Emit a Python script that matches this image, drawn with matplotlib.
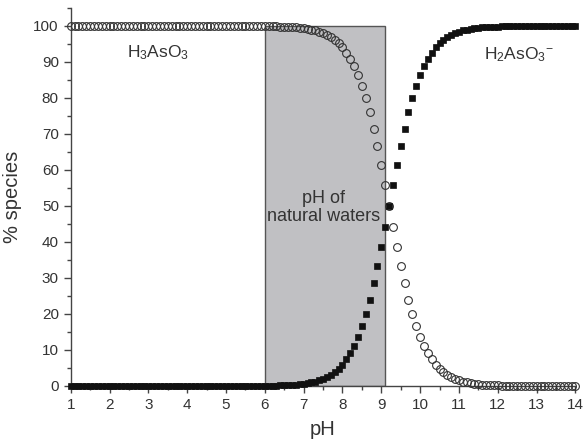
import numpy as np
import matplotlib
matplotlib.use("Agg")
import matplotlib.pyplot as plt
from matplotlib.patches import Rectangle
from matplotlib.ticker import MultipleLocator

plt.rcParams["font.family"] = ["Liberation Sans", "DejaVu Sans"]
plt.rcParams["mathtext.fontset"] = "custom"
plt.rcParams["mathtext.rm"] = "Liberation Sans"
plt.rcParams["mathtext.it"] = "Liberation Sans"

# pH grid, 1.0 .. 14.0 in steps of 0.1
ph = np.round(np.arange(10, 141) / 10, 1)

# % H3AsO3 (open circles)
h3aso3 = ([100.0] * 50 + [
    99.9, 99.9, 99.9, 99.9, 99.8, 99.8, 99.7, 99.7, 99.6, 99.5,
    99.4, 99.2, 99.0, 98.8, 98.4, 98.0, 97.6, 96.9, 96.2, 95.2,
    94.1, 92.6, 90.9, 88.8, 86.3, 83.4, 79.9, 76.0, 71.5, 66.6,
    61.3, 55.7, 50.0, 44.3, 38.7, 33.4, 28.5, 24.0, 20.1, 16.6,
    13.7, 11.2, 9.1, 7.4, 5.9, 4.8, 3.8, 3.1, 2.4, 2.0,
    1.6, 1.2, 1.0, 0.8, 0.6, 0.5, 0.4, 0.3, 0.3, 0.2,
    0.2, 0.1, 0.1, 0.1, 0.1,
] + [0.0] * 16)

# % H2AsO3- (filled squares)
h2aso3 = ([0.0] * 50 + [
    0.1, 0.1, 0.1, 0.1, 0.2, 0.2, 0.3, 0.3, 0.4, 0.5,
    0.6, 0.8, 1.0, 1.2, 1.6, 2.0, 2.4, 3.1, 3.8, 4.8,
    5.9, 7.4, 9.1, 11.2, 13.7, 16.6, 20.1, 24.0, 28.5, 33.4,
    38.7, 44.3, 50.0, 55.7, 61.3, 66.6, 71.5, 76.0, 79.9, 83.4,
    86.3, 88.8, 90.9, 92.6, 94.1, 95.2, 96.2, 96.9, 97.5, 98.0,
    98.4, 98.8, 99.0, 99.2, 99.4, 99.5, 99.6, 99.7, 99.7, 99.8,
    99.8, 99.9, 99.9, 99.9, 99.9,
] + [100.0] * 16)

natural_range = (6.0, 9.1)

fig = plt.figure(figsize=(5.86, 4.48), dpi=100)
ax = fig.add_axes([0.1206, 0.1384, 0.8614, 0.8438])

ax.add_patch(Rectangle((natural_range[0], 0), natural_range[1] - natural_range[0], 100,
                       facecolor="#c0c0c3", edgecolor="#555555", linewidth=1.0, zorder=1))

ax.plot(ph, h3aso3, linestyle="none", marker="o", markersize=5.6,
        markerfacecolor="none", markeredgecolor="#333333", markeredgewidth=0.8,
        clip_on=False, zorder=3)
ax.plot(ph, h2aso3, linestyle="none", marker="s", markersize=5.0,
        markerfacecolor="#111111", markeredgecolor="#111111", markeredgewidth=0.5,
        clip_on=False, zorder=4)

ax.set_xlim(1, 14)
ax.set_ylim(0, 105)
ax.xaxis.set_major_locator(MultipleLocator(1))
ax.xaxis.set_minor_locator(MultipleLocator(0.5))
ax.yaxis.set_major_locator(MultipleLocator(10))
ax.yaxis.set_minor_locator(MultipleLocator(5))
ax.set_yticks(np.arange(0, 101, 10))

for side in ("top", "right"):
    ax.spines[side].set_visible(False)
for side in ("left", "bottom"):
    ax.spines[side].set_color("#444444")
    ax.spines[side].set_linewidth(1.0)
ax.tick_params(which="major", direction="out", length=5, width=1.0, color="#444444",
               labelsize=11, labelcolor="#333333")
ax.tick_params(which="minor", direction="out", length=3, width=1.0, color="#444444")

ax.set_xlabel("pH", fontsize=14.5, color="#333333", labelpad=6)
ax.set_ylabel("% species", fontsize=14.5, color="#333333", labelpad=8)

ax.text(3.26, 92.5, r"H$_3$AsO$_3$", fontsize=12.5, color="#333333",
        ha="center", va="center")
ax.text(12.55, 92.0, r"H$_2$AsO$_3$$^{-}$", fontsize=12.5, color="#333333",
        ha="center", va="center")
ax.text(7.52, 49.5, "pH of\nnatural waters", fontsize=13, color="#333333",
        ha="center", va="center", linespacing=1.1, zorder=5)

fig.savefig("out.png", dpi=100)
